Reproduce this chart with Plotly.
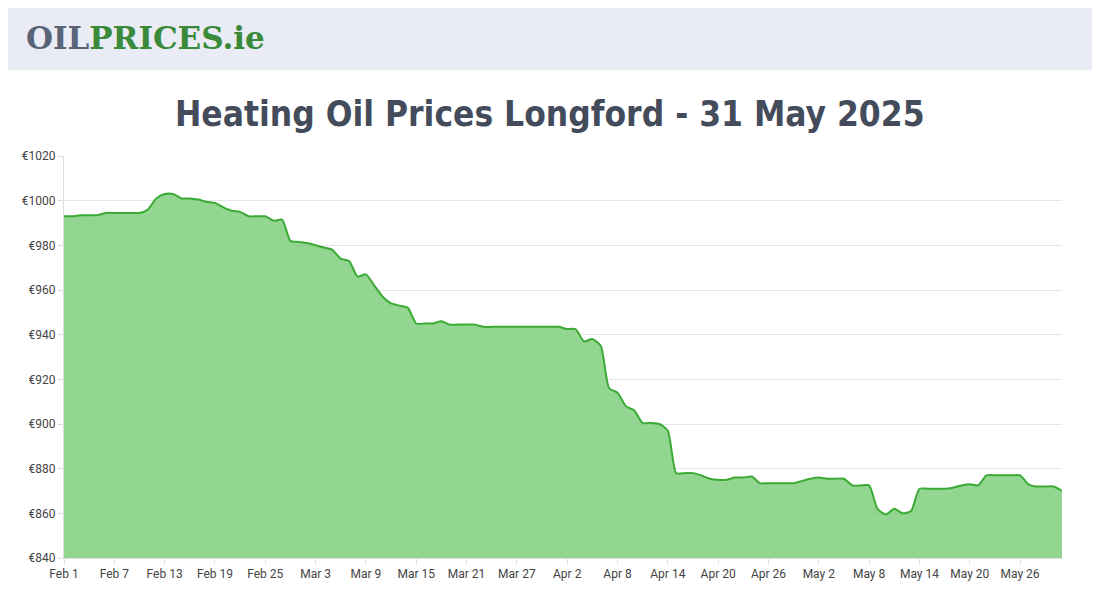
import pandas as pd
import plotly.graph_objects as go

# daily prices, Feb 1 .. May 31 2025
prices = [
    993, 993, 993.5, 993.5, 993.5, 994.5, 994.5, 994.5, 994.5, 994.5,   # Feb 1-10
    996, 1001, 1003, 1003, 1001, 1001, 1000.5, 999.5, 999, 997,       # Feb 11-20
    995.5, 995, 993, 993, 993, 991, 991.5, 982,                        # Feb 21-28
    981.5, 981, 980, 979, 978, 974, 973, 966, 967, 962,                # Mar 1-10
    957, 954, 953, 952, 945, 945, 945, 946, 944.5, 944.5,              # Mar 11-20
    944.5, 944.5, 943.5, 943.5, 943.5, 943.5, 943.5, 943.5, 943.5, 943.5,  # Mar 21-30
    943.5,                                                             # Mar 31
    943.5, 942.5, 942.5, 937, 938, 935, 916, 914, 908, 906,            # Apr 1-10
    900.5, 900.5, 900, 897, 878, 878, 878, 877, 875.5, 875,            # Apr 11-20
    875, 876, 876, 876.5, 873.5, 873.5, 873.5, 873.5, 873.5, 874.5,    # Apr 21-30
    875.5, 876, 875.5, 875.5, 875.5, 872.5, 872.5, 872.5, 862, 859.5,  # May 1-10
    862, 860, 861, 871, 871, 871, 871, 871.5, 872.5, 873,              # May 11-20
    872.5, 877, 877, 877, 877, 877, 873, 872, 872, 872, 870,           # May 21-31
]
dates = pd.date_range("2025-02-01", periods=len(prices), freq="D")
tick_dates = dates[::6]
tick_text = [d.strftime("%b ") + str(d.day) for d in tick_dates]

# page has an 8px body margin, so the figure is shifted by that
OFF = 8
L, R, T, B = 64 - OFF, 30, 156 - OFF, 34
FW, FH = 1100 - 2 * OFF, 600 - 2 * OFF
W, H = FW - L - R, FH - T - B


def px(x, y):
    # page pixel -> paper coords
    return (x - OFF - L) / W, 1 - (y - OFF - T) / H


fig = go.Figure()
fig.add_trace(go.Scatter(
    x=dates, y=prices, mode="lines",
    line=dict(color="#3aaa35", width=2, shape="spline", smoothing=0.6),
    fill="tozeroy", fillcolor="rgba(120,204,117,0.8)",
    hoverinfo="skip",
))

lx, ly = px(24, 38)
tx, ty = px(550, 114)
r0x, r0y = px(0, 70)
r1x, r1y = px(1100, 0)
fig.update_layout(
    width=FW, height=FH,
    margin=dict(l=L, r=R, t=T, b=B),
    paper_bgcolor="white", plot_bgcolor="white",
    showlegend=False,
    font=dict(family="Roboto, Arial, sans-serif", size=12, color="#444"),
    shapes=[dict(type="rect", xref="paper", yref="paper", x0=r0x, x1=r1x,
                 y0=r0y, y1=r1y, fillcolor="#e9ecf4", line_width=0, layer="below")],
    annotations=[
        dict(text="<span style='color:#5a6478'>OIL</span>"
                  "<span style='color:#3a8a3a'>PRICES.ie</span>",
             x=lx, y=ly, xref="paper", yref="paper", showarrow=False,
             xanchor="left", yanchor="middle",
             font=dict(family="DejaVu Serif", size=31, weight=900)),
        dict(text="Heating Oil Prices Longford - 31 May 2025",
             x=tx, y=ty, xref="paper", yref="paper", showarrow=False,
             xanchor="center", yanchor="middle",
             font=dict(family="DejaVu Sans Condensed", size=35,
                       color="#444c5c", weight=600)),
    ],
)
fig.update_xaxes(range=[dates[0], dates[-1]], tickvals=tick_dates, ticktext=tick_text,
                 showgrid=False, showline=True, linecolor="#ddd", ticks="outside",
                 ticklen=5, tickcolor="#ddd")
fig.update_yaxes(range=[840, 1020], dtick=20, tickprefix="€", gridcolor="#e5e5e5",
                 showline=True, linecolor="#ddd", zeroline=False, ticks="outside",
                 ticklen=5, tickcolor="#ddd")

fig.write_html("out.html")
